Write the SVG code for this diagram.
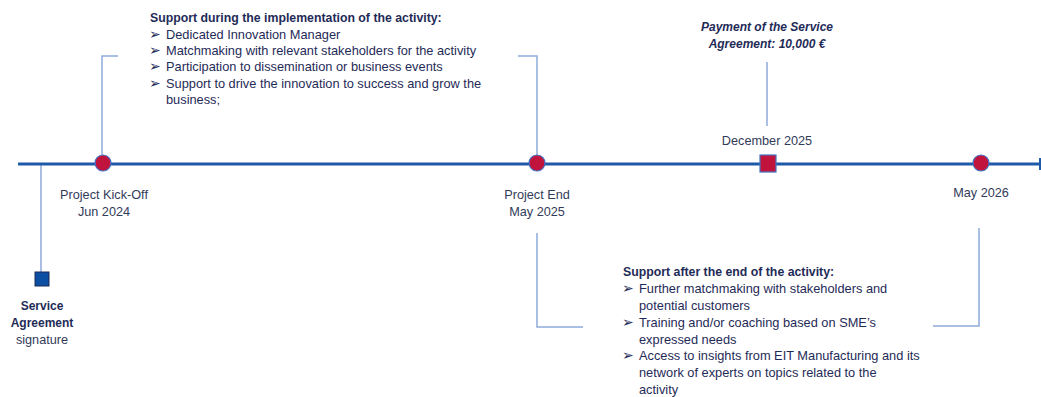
<svg xmlns="http://www.w3.org/2000/svg" width="1041" height="397" viewBox="0 0 1041 397">
<style>
.t{font-family:"Liberation Sans",Arial,sans-serif;font-size:12.8px;fill:#1F2B57}
.lbl{font-family:"Liberation Sans",Arial,sans-serif;font-size:12.7px;fill:#333B5A}
.b{font-weight:bold;font-size:12.3px}
.bi{font-weight:bold;font-style:italic;font-size:12px}
.ar{font-family:"DejaVu Sans",sans-serif;font-size:14px;fill:#1F2B57}
.con{fill:none;stroke:#8FAADC;stroke-width:1.5}
.ms{fill:#C0143C;stroke:#4472C4;stroke-width:1.2}
</style>
<rect width="1041" height="397" fill="#fff"/>
<g id="connectors">
<path class="con" d="M118,56 H102 V155"/>
<path class="con" d="M518,56 H537 V155"/>
<path class="con" d="M767,62 V126"/>
<path class="con" d="M41,164 V272"/>
<path class="con" d="M537,233 V327 H583"/>
<path class="con" d="M933,326 H979 V228"/>
</g>
<g id="timeline">
<line x1="18" y1="164" x2="1040" y2="164" stroke="#1E5AA8" stroke-width="3"/>
<line x1="1040" y1="158" x2="1040" y2="170" stroke="#1E5AA8" stroke-width="2"/>
</g>
<g id="kickoff">
<circle class="ms" cx="103" cy="163" r="8"/>
<text class="lbl" x="104" y="199" text-anchor="middle">Project Kick-Off</text>
<text class="lbl" x="104" y="216" text-anchor="middle">Jun 2024</text>
</g>
<g id="projectend">
<circle class="ms" cx="537" cy="163" r="8"/>
<text class="lbl" x="537" y="199" text-anchor="middle">Project End</text>
<text class="lbl" x="537" y="216" text-anchor="middle">May 2025</text>
</g>
<g id="december">
<rect class="ms" x="760" y="155" width="16" height="17"/>
<text class="lbl" x="767" y="145" text-anchor="middle">December 2025</text>
</g>
<g id="payment">
<text class="t bi" x="767" y="31" text-anchor="middle">Payment of the Service</text>
<text class="t bi" x="767" y="48" text-anchor="middle">Agreement: 10,000 €</text>
</g>
<g id="may2026">
<circle class="ms" cx="981" cy="163" r="8"/>
<text class="lbl" x="981" y="197" text-anchor="middle">May 2026</text>
</g>
<g id="serviceagreement">
<rect x="35" y="272" width="14" height="14" fill="#0B4EA2" stroke="#1F2B57" stroke-width="1"/>
<text class="t b" x="42" y="310" text-anchor="middle" style="font-size:12px">Service</text>
<text class="t b" x="42" y="327" text-anchor="middle" style="font-size:12px">Agreement</text>
<text class="lbl" x="42" y="344" text-anchor="middle">signature</text>
</g>
<g id="during">
<text class="t b" x="150" y="22">Support during the implementation of the activity:</text>
<text class="ar" x="149" y="39">➢</text><text class="t" x="166" y="39">Dedicated Innovation Manager</text>
<text class="ar" x="149" y="55">➢</text><text class="t" x="166" y="55">Matchmaking with relevant stakeholders for the activity</text>
<text class="ar" x="149" y="71">➢</text><text class="t" x="166" y="71">Participation to dissemination or business events</text>
<text class="ar" x="149" y="88">➢</text><text class="t" x="166" y="88">Support to drive the innovation to success and grow the</text>
<text class="t" x="166" y="104">business;</text>
</g>
<g id="after">
<text class="t b" x="623" y="276">Support after the end of the activity:</text>
<text class="ar" x="622" y="293">➢</text><text class="t" x="639" y="293">Further matchmaking with stakeholders and</text>
<text class="t" x="639" y="310">potential customers</text>
<text class="ar" x="622" y="327">➢</text><text class="t" x="639" y="327">Training and/or coaching based on SME’s</text>
<text class="t" x="639" y="344">expressed needs</text>
<text class="ar" x="622" y="360">➢</text><text class="t" x="639" y="360">Access to insights from EIT Manufacturing and its</text>
<text class="t" x="639" y="377">network of experts on topics related to the</text>
<text class="t" x="639" y="394">activity</text>
</g>
</svg>
